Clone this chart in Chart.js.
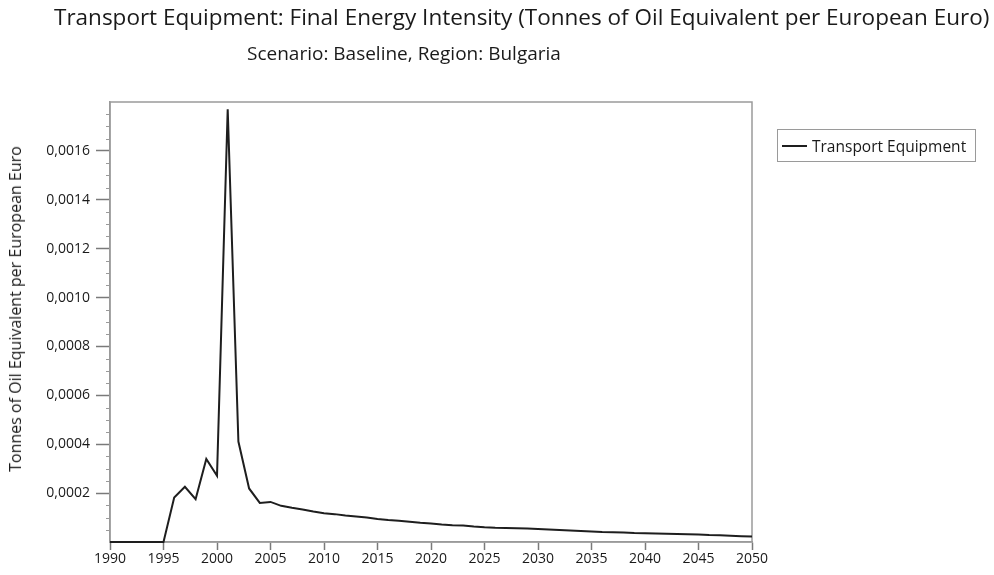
<!DOCTYPE html>
<html>
<head>
<meta charset="utf-8">
<script src="https://cdn.jsdelivr.net/npm/chart.js@4.4.0/dist/chart.umd.min.js"></script>
<style>
  html, body { margin: 0; padding: 0; background: #fff; }
  #wrap { position: relative; width: 994px; height: 575px; font-family: "Open Sans", sans-serif; color: #1a1a1a; }
  #chart { position: absolute; left: 0; top: 0; }
  #title { position: absolute; left: 54px; top: 1px; font-size: 22.5px; white-space: nowrap; }
  #subtitle { position: absolute; left: 247px; top: 40px; font-size: 19px; white-space: nowrap; }
  #ytitle { position: absolute; left: 15px; top: 309px; font-size: 16px; white-space: nowrap; color: #1a1a1a;
            transform: translate(-50%, -50%) rotate(-90deg); }
  #legend { position: absolute; left: 777px; top: 129px; width: 199px; height: 33px; box-sizing: border-box;
            border: 1px solid #9a9a9a; font-size: 15.5px; display: flex; align-items: center; }
  #legend .swatch { display: inline-block; width: 25px; height: 0; border-top: 2px solid #1e1e1e; margin: 0 5px 0 4px; }
</style>
</head>
<body>
<div id="wrap">
  <canvas id="chart" width="994" height="575"></canvas>
  <div id="title">Transport Equipment: Final Energy Intensity (Tonnes of Oil Equivalent per European Euro)</div>
  <div id="subtitle">Scenario: Baseline, Region: Bulgaria</div>
  <div id="ytitle">Tonnes of Oil Equivalent per European Euro</div>
  <div id="legend"><span class="swatch"></span><span id="legendText"></span></div>
</div>
<script>
// years 1990..2050
const years = [
  1990, 1991, 1992, 1993, 1994, 1995, 1996, 1997, 1998, 1999,
  2000, 2001, 2002, 2003, 2004, 2005, 2006, 2007, 2008, 2009,
  2010, 2011, 2012, 2013, 2014, 2015, 2016, 2017, 2018, 2019,
  2020, 2021, 2022, 2023, 2024, 2025, 2026, 2027, 2028, 2029,
  2030, 2031, 2032, 2033, 2034, 2035, 2036, 2037, 2038, 2039,
  2040, 2041, 2042, 2043, 2044, 2045, 2046, 2047, 2048, 2049,
  2050
];

const seriesName = 'Transport Equipment';

// toe per euro
const intensity = [
  0, 0, 0, 0, 0, 0, 0.000182, 0.000226, 0.000175, 0.00034,
  0.000271, 0.00177, 0.000411, 0.000219, 0.00016, 0.000164, 0.000148, 0.00014, 0.000133, 0.000125,
  0.000118, 0.000114, 0.000108, 0.000104, 0.0001, 0.000094, 0.00009, 0.000087, 0.000083, 0.000079,
  0.000076, 0.000072, 0.000069, 0.000067, 0.000063, 0.00006, 0.000058, 0.000057, 0.000056, 0.000055,
  0.000053, 0.000051, 0.000049, 0.000047, 0.000045, 0.000043, 0.000041, 0.00004, 0.000039, 0.000037,
  0.000036, 0.000035, 0.000034, 0.000033, 0.000032, 0.000031, 0.000029, 0.000028, 0.000026, 0.000024,
  0.000022
];

const xTicks = [1990, 1995, 2000, 2005, 2010, 2015, 2020, 2025, 2030, 2035, 2040, 2045, 2050];
const yMajor = [0.0002, 0.0004, 0.0006, 0.0008, 0.0010, 0.0012, 0.0014, 0.0016];
const yMax = 0.0018;
const yMinorStep = 0.00005;

document.getElementById('legendText').textContent = seriesName;

const axisGray = '#9a9a9a';
const isMajor = v => yMajor.some(m => Math.abs(m - v) < 1e-9);

// plot frame + minor ticks on the y axis (drawn under the line)
const frame = {
  id: 'frame',
  beforeDatasetsDraw(chart) {
    const { ctx, chartArea: a, scales } = chart;
    ctx.save();
    ctx.strokeStyle = axisGray;
    ctx.lineWidth = 1.5;
    ctx.strokeRect(a.left, a.top, a.right - a.left, a.bottom - a.top);
    ctx.lineWidth = 1;
    for (let i = 1; i * yMinorStep < yMax; i++) {
      const v = i * yMinorStep;
      if (isMajor(v)) continue;
      const y = Math.round(scales.y.getPixelForValue(v)) + 0.5;
      ctx.beginPath();
      ctx.moveTo(a.left - 4, y);
      ctx.lineTo(a.left, y);
      ctx.stroke();
    }
    ctx.restore();
  }
};

new Chart(document.getElementById('chart'), {
  type: 'line',
  data: {
    datasets: [{
      label: seriesName,
      data: years.map((yr, i) => ({ x: yr, y: intensity[i] })),
      borderColor: '#1e1e1e',
      borderWidth: 2,
      pointRadius: 0,
      tension: 0,
      fill: false,
      clip: 4
    }]
  },
  options: {
    responsive: false,
    animation: false,
    layout: { padding: { top: 102, right: 242, left: 0, bottom: 0 } },
    plugins: { legend: { display: false }, title: { display: false }, tooltip: { enabled: false } },
    scales: {
      x: {
        type: 'linear',
        min: 1990,
        max: 2050,
        afterFit: s => { s.height = 33; },
        afterBuildTicks: s => { s.ticks = xTicks.map(v => ({ value: v })); },
        ticks: {
          callback: v => String(v),
          color: '#1a1a1a',
          font: { family: 'Open Sans', size: 14 },
          padding: 1,
          maxRotation: 0,
          autoSkip: false
        },
        grid: { drawOnChartArea: false, tickLength: 8, tickColor: '#7a7a7a', tickWidth: 1.5 },
        border: { color: axisGray, width: 1.5 }
      },
      y: {
        min: 0,
        max: yMax,
        afterFit: s => { s.width = 110; },
        afterBuildTicks: s => { s.ticks = yMajor.map(v => ({ value: v })); },
        ticks: {
          callback: v => v.toFixed(4).replace('.', ','),
          color: '#1a1a1a',
          font: { family: 'Open Sans', size: 14 },
          padding: 6,
          autoSkip: false
        },
        grid: { drawOnChartArea: false, tickLength: 14, tickColor: '#7a7a7a', tickWidth: 1.5 },
        border: { color: axisGray, width: 1.5 }
      }
    }
  },
  plugins: [frame]
});
</script>
</body>
</html>
